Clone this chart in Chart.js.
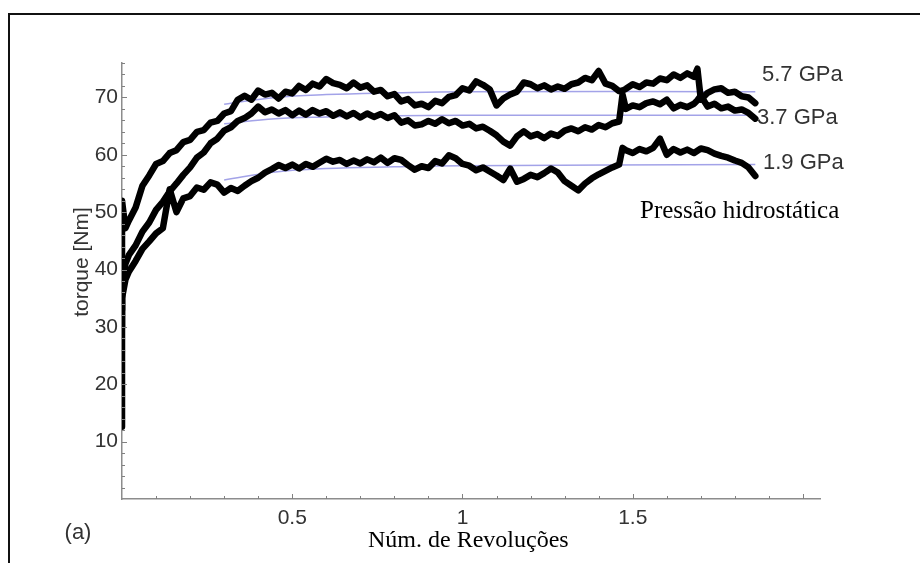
<!DOCTYPE html>
<html>
<head>
<meta charset="utf-8">
<script src="https://cdn.jsdelivr.net/npm/chart.js@4.4.1/dist/chart.umd.min.js"></script>
<style>
  html, body { margin: 0; padding: 0; background: #fff; }
  canvas { display: block; }
</style>
</head>
<body>
<canvas id="c" width="920" height="563"></canvas>
<script>
// Number of revolutions (shared sampling for the three torque records)
const revs = [
  0, 0, 0.01, 0.02, 0.04, 0.06, 0.08, 0.10, 0.12, 0.14,
  0.16, 0.18, 0.20, 0.22, 0.24, 0.26, 0.28, 0.30, 0.32, 0.34,
  0.36, 0.38, 0.40, 0.42, 0.44, 0.46, 0.48, 0.50, 0.52, 0.54,
  0.56, 0.58, 0.60, 0.62, 0.64, 0.66, 0.68, 0.70, 0.72, 0.74,
  0.76, 0.78, 0.80, 0.82, 0.84, 0.86, 0.88, 0.90, 0.92, 0.94,
  0.96, 0.98, 1.00, 1.02, 1.04, 1.06, 1.08, 1.10, 1.12, 1.14,
  1.16, 1.18, 1.20, 1.22, 1.24, 1.26, 1.28, 1.30, 1.32, 1.34,
  1.36, 1.38, 1.40, 1.42, 1.44, 1.46, 1.47, 1.48, 1.50, 1.52,
  1.54, 1.56, 1.58, 1.60, 1.62, 1.64, 1.66, 1.68, 1.69, 1.70,
  1.72, 1.74, 1.76, 1.78, 1.80, 1.82, 1.84, 1.86
];

// Torque [Nm] at 5.7 GPa
const torque57 = [
  12.6, 52.0, 47.2, 48.5, 50.8, 54.6, 56.4, 58.4, 58.9, 60.3,
  60.8, 62.2, 62.6, 64.0, 64.3, 65.6, 65.9, 67.2, 67.6, 69.6,
  70.3, 69.6, 71.2, 70.5, 70.8, 69.8, 71.0, 70.7, 72.0, 71.3,
  72.4, 71.9, 73.2, 72.5, 72.2, 71.6, 72.6, 71.7, 72.1, 71.0,
  71.3, 70.2, 70.6, 69.3, 69.7, 68.6, 68.9, 68.3, 69.4, 69.0,
  70.1, 70.4, 71.6, 71.2, 72.8, 72.2, 71.4, 68.6, 69.8, 70.5,
  71.0, 72.6, 72.3, 71.6, 72.1, 71.4, 71.9, 71.5, 72.3, 72.6,
  73.4, 73.0, 74.6, 72.4, 72.0, 71.1, 71.2, 71.5, 72.3, 71.8,
  72.6, 72.4, 73.3, 73.0, 74.0, 73.4, 74.2, 73.6, 75.0, 69.6,
  70.8, 71.4, 71.6, 70.8, 71.0, 70.2, 70.0, 69.0
];

// Torque [Nm] at 3.7 GPa
const torque37 = [
  30.0, 36.0, 41.0, 42.5, 44.2, 46.6, 48.2, 50.4, 51.8, 53.6,
  55.0, 56.5, 57.8, 59.5, 60.4, 62.0, 62.8, 64.2, 64.8, 65.9,
  66.4, 67.2, 68.4, 67.4, 67.9, 67.2, 67.8, 66.9, 67.7, 67.0,
  67.8, 67.2, 67.6, 66.8, 67.4, 66.7, 67.3, 66.5, 67.2, 66.6,
  67.1, 66.4, 66.9, 65.6, 66.0, 65.1, 65.3, 65.9, 65.4, 66.2,
  65.5, 65.9, 65.1, 65.4, 64.6, 64.9, 64.2, 63.4, 62.3, 61.6,
  63.2, 64.1, 63.2, 63.6, 62.9, 63.7, 63.3, 64.2, 64.6, 64.1,
  64.8, 64.4, 65.2, 64.8, 65.5, 65.8, 70.5, 68.0, 68.6, 68.3,
  69.0, 69.3, 68.8, 69.6, 68.1, 68.7, 68.3, 68.9, 69.5, 70.3,
  68.4, 68.9, 68.1, 68.4, 67.7, 67.9, 67.3, 66.3
];

// Torque [Nm] at 1.9 GPa
const torque19 = [
  33.0, 35.0, 38.2, 39.6, 41.5, 43.6, 44.9, 46.3, 47.2, 54.0,
  50.0, 52.4, 52.8, 54.3, 53.9, 55.2, 54.8, 53.4, 54.2, 53.7,
  54.6, 55.4, 56.0, 56.9, 57.5, 58.2, 57.7, 58.3, 57.6, 58.4,
  57.9, 58.6, 59.3, 58.8, 59.1, 58.4, 59.0, 58.5, 59.2, 58.7,
  59.5, 58.6, 59.4, 59.1, 58.2, 57.4, 58.0, 57.7, 58.9, 58.5,
  59.9, 59.4, 58.4, 58.1, 57.3, 57.8, 57.1, 56.4, 55.6, 57.6,
  55.3, 55.8, 56.5, 56.1, 56.8, 57.6, 56.9, 55.4, 54.6, 53.8,
  55.0, 55.9, 56.6, 57.2, 57.8, 58.3, 61.2, 60.8, 60.3, 61.0,
  60.6, 61.2, 62.8, 60.0, 61.0, 60.4, 60.9, 60.3, 60.7, 61.1,
  60.8, 60.2, 59.8, 59.5, 59.0, 58.6, 57.8, 56.3
];

// Fitted saturation curves
const fitRevs = [0.30, 0.45, 0.60, 0.80, 1.00, 1.86];
const fit57 = [68.8, 70.0, 70.5, 70.8, 71.0, 71.0];
const fit37 = [65.4, 66.3, 66.6, 66.8, 66.9, 66.9];
const fit19 = [55.6, 57.0, 57.6, 57.9, 58.1, 58.3];

const pressureLabels = ['5.7 GPa', '3.7 GPa', '1.9 GPa'];
const xTickValues = [0.5, 1, 1.5, 2];
const xTickLabels = ['0.5', '1', '1.5', '2'];
const yTickValues = [10, 20, 30, 40, 50, 60, 70];
const yTickLabels = ['10', '20', '30', '40', '50', '60', '70'];

function pts(xs, ys) { return xs.map((x, i) => ({ x: x, y: ys[i] })); }

const SANS = '"Liberation Sans", Arial, sans-serif';
const SERIF = '"Liberation Serif", "Times New Roman", serif';

const decor = {
  id: 'decor',
  afterDraw(chart) {
    const ctx = chart.ctx;
    const xs = chart.scales.x, ys = chart.scales.y;
    const a = chart.chartArea;
    ctx.save();

    // inward tick marks
    ctx.strokeStyle = '#808080';
    ctx.lineWidth = 1;
    for (let i = 1; i <= 20; i++) {
      const v = i / 10;
      const px = Math.round(xs.getPixelForValue(v)) + 0.5;
      const len = (i % 5 === 0) ? 5 : 3;
      ctx.beginPath(); ctx.moveTo(px, a.bottom); ctx.lineTo(px, a.bottom - len); ctx.stroke();
    }
    for (let v = 2; v <= 76; v += 2) {
      const py = Math.round(ys.getPixelForValue(v)) + 0.5;
      const len = (v % 10 === 0) ? 5 : 3;
      ctx.beginPath(); ctx.moveTo(a.left, py); ctx.lineTo(a.left + len, py); ctx.stroke();
    }

    // outer frame
    ctx.strokeStyle = '#111';
    ctx.lineWidth = 2;
    ctx.beginPath();
    ctx.moveTo(9, 563); ctx.lineTo(9, 14); ctx.lineTo(920, 14);
    ctx.stroke();

    // pressure labels
    ctx.fillStyle = '#333';
    ctx.font = '22px ' + SANS;
    ctx.textAlign = 'left';
    ctx.textBaseline = 'middle';
    ctx.fillText(pressureLabels[0], 762, 75);
    ctx.fillText(pressureLabels[1], 757, 118);
    ctx.fillText(pressureLabels[2], 763, 163);

    // panel tag
    ctx.textAlign = 'center';
    ctx.fillText('(a)', 78, 533);

    // y axis title
    ctx.save();
    ctx.translate(82, 262);
    ctx.rotate(-Math.PI / 2);
    ctx.font = '21px ' + SANS;
    ctx.fillText('torque [Nm]', 0, 0);
    ctx.restore();

    // serif captions
    ctx.fillStyle = '#000';
    ctx.textAlign = 'left';
    ctx.textBaseline = 'alphabetic';
    ctx.font = '25px ' + SERIF;
    ctx.fillText('Pressão hidrostática', 640, 218);
    ctx.font = '24px ' + SERIF;
    ctx.fillText('Núm. de Revoluções', 368, 547);

    ctx.restore();
  }
};

const blackLine = {
  borderColor: '#000', borderWidth: 6.5, pointRadius: 0, tension: 0, fill: false,
  borderJoinStyle: 'round', borderCapStyle: 'round', order: 0
};
const fitLine = { borderColor: '#a3a3e8', borderWidth: 1.5, pointRadius: 0, tension: 0.4, fill: false, order: 5 };

new Chart(document.getElementById('c'), {
  type: 'line',
  data: {
    datasets: [
      Object.assign({ label: '5.7 GPa', data: pts(revs, torque57) }, blackLine),
      Object.assign({ label: '3.7 GPa', data: pts(revs, torque37) }, blackLine),
      Object.assign({ label: '1.9 GPa', data: pts(revs, torque19) }, blackLine),
      Object.assign({ label: 'fit 5.7', data: pts(fitRevs, fit57) }, fitLine),
      Object.assign({ label: 'fit 3.7', data: pts(fitRevs, fit37) }, fitLine),
      Object.assign({ label: 'fit 1.9', data: pts(fitRevs, fit19) }, fitLine)
    ]
  },
  options: {
    animation: false,
    responsive: false,
    devicePixelRatio: 1,
    layout: { padding: { left: 0, right: 100, top: 63, bottom: 0 } },
    plugins: { legend: { display: false }, tooltip: { enabled: false } },
    scales: {
      x: {
        type: 'linear', min: 0, max: 2.05,
        grid: { display: false, drawTicks: false },
        border: { display: true, color: '#8c8c8c', width: 1.5 },
        ticks: {
          stepSize: 0.5, padding: 7, autoSkip: false, maxRotation: 0,
          color: '#333', font: { family: SANS, size: 21 },
          callback: (v) => {
            const k = xTickValues.findIndex(t => Math.abs(t - v) < 1e-9);
            return k >= 0 ? xTickLabels[k] : '';
          }
        },
        afterFit: (s) => { s.height = 64; }
      },
      y: {
        type: 'linear', min: 0, max: 76,
        grid: { display: false, drawTicks: false },
        border: { display: true, color: '#8c8c8c', width: 1.5 },
        ticks: {
          stepSize: 10, padding: 4, autoSkip: false,
          color: '#333', font: { family: SANS, size: 21 },
          callback: (v) => {
            const k = yTickValues.indexOf(v);
            return k >= 0 ? yTickLabels[k] : '';
          }
        },
        afterFit: (s) => { s.width = 122; }
      }
    }
  },
  plugins: [decor]
});
</script>
</body>
</html>
